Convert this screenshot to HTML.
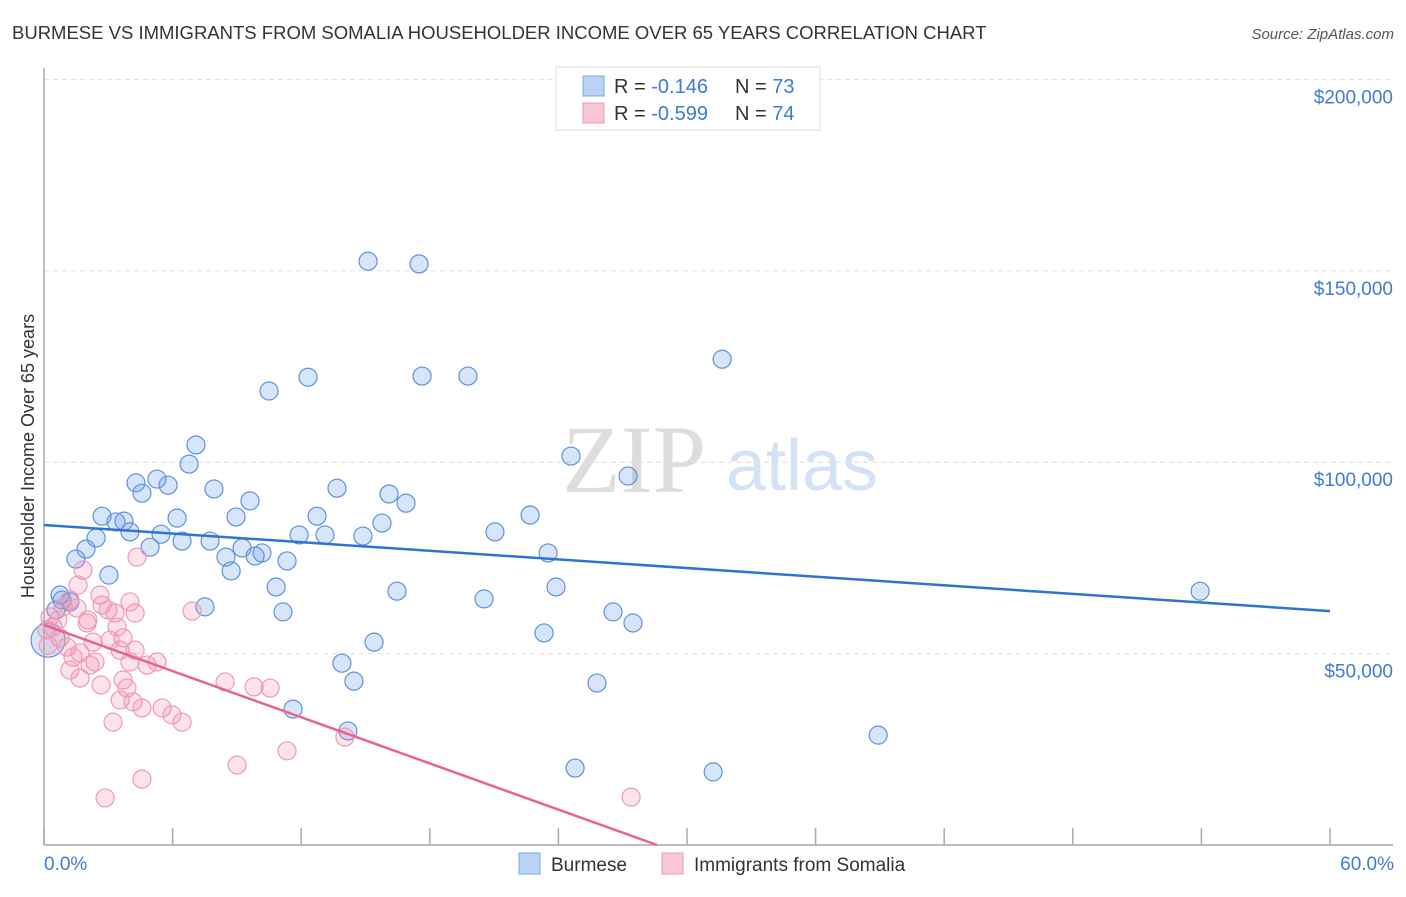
<!DOCTYPE html>
<html><head><meta charset="utf-8"><style>
body{margin:0;background:#fff;font-family:"Liberation Sans",sans-serif;}
svg text{font-family:"Liberation Sans",sans-serif;}
</style></head><body>
<svg id="chart" width="1406" height="892">
<text x="12" y="39" font-size="18.5" fill="#333">BURMESE VS IMMIGRANTS FROM SOMALIA HOUSEHOLDER INCOME OVER 65 YEARS CORRELATION CHART</text>
<text x="1394" y="39" font-size="15" fill="#555" font-style="italic" text-anchor="end">Source: ZipAtlas.com</text>
<text x="634" y="492" font-size="96" fill="#ddd" font-family="Liberation Serif" text-anchor="middle" style="font-family:'Liberation Serif',serif">ZIP</text>
<text x="802" y="490" font-size="72" fill="#d3e2f5" text-anchor="middle">atlas</text>
<g id="grid"></g><g id="axes"></g><g id="pts"></g><g id="trend"></g>
<text transform="translate(34,456) rotate(-90)" font-size="18" fill="#333" text-anchor="middle">Householder Income Over 65 years</text>
<text x="44" y="870" font-size="19" fill="#3d7bd4">0.0%</text>
<text x="1394" y="870" font-size="19" fill="#3d7bd4" text-anchor="end">60.0%</text>
<g>
<rect x="556" y="67" width="264" height="63" fill="#fff" stroke="#ddd"/>
<rect x="583" y="76" width="21" height="20" fill="#b9d3f5" stroke="#7aa7e6"/>
<rect x="583" y="103" width="21" height="20" fill="#f9c6d5" stroke="#ee9ab6"/>
<text x="614" y="93" font-size="20" fill="#333">R = <tspan fill="#3d7bd4"> -0.146</tspan><tspan x="735">N = </tspan><tspan fill="#3d7bd4">73</tspan></text>
<text x="614" y="120" font-size="20" fill="#333">R = <tspan fill="#3d7bd4">-0.599</tspan><tspan x="735">N = </tspan><tspan fill="#3d7bd4">74</tspan></text>
</g>
<g>
<rect x="519" y="853" width="21" height="21" fill="#b9d3f5" stroke="#7aa7e6"/>
<text x="551" y="871" font-size="19" fill="#333">Burmese</text>
<rect x="662" y="853" width="21" height="21" fill="#f9c6d5" stroke="#ee9ab6"/>
<text x="694" y="871" font-size="19" fill="#333">Immigrants from Somalia</text>
</g>
</svg>
<script>
const yTicks=[50000,100000,150000,200000];
const yTickLabels=["$50,000","$100,000","$150,000","$200,000"];
const xTicks=[0,6,12,18,24,30,36,42,48,54,60];
const blueX=[15.12,17.5,31.64,10.5,12.32,17.64,19.78,7.09,24.59,6.77,27.25,4.29,5.27,5.79,4.57,7.93,9.61,13.67,16.1,16.89,2.71,3.36,3.73,6.21,8.96,12.74,22.68,4.01,5.46,6.44,7.75,11.9,13.11,14.88,15.77,21.04,4.95,2.43,1.96,1.49,9.24,10.17,8.49,9.85,11.34,23.52,3.03,8.73,10.83,16.47,23.89,53.94,0.84,1.21,7.51,11.15,20.53,26.55,27.48,23.33,15.4,13.9,14.46,25.8,11.62,14.18,38.92,24.78,31.22,0.19,0.56,0.75];
const blueY=[152.5,151.8,126.9,118.6,122.2,122.5,122.5,104.5,101.6,99.5,96.4,94.6,95.6,94,91.9,93,89.9,93.2,91.7,89.3,85.9,84.4,84.6,85.4,85.7,85.9,86.2,81.8,81.2,79.4,79.4,81,81,80.7,84.1,81.8,77.8,80.2,77.3,74.7,77.6,76.3,75.2,75.5,74.2,76.3,70.5,71.6,67.4,66.3,67.4,66.3,64,63.5,62.2,60.9,64.3,60.9,58,55.4,53,47.5,42.8,42.3,35.5,29.8,28.7,20.1,19.1,53.5,61.4,65.3];
const pinkX=[4.34,1.82,1.59,2.61,2.71,4.01,4.25,2.99,3.31,2.05,1.54,2.01,3.41,2.29,3.08,3.69,4.25,3.55,4.01,4.81,5.27,2.38,2.15,1.21,1.68,2.66,3.69,3.87,3.55,4.15,4.57,5.51,5.97,6.44,3.22,8.45,6.91,9.01,4.57,2.85,0.42,0.28,0.75,1.07,1.68,1.35,0.89,1.21,9.8,10.55,11.34,14.04,27.39,0.14,0.65,0.19];
const pinkY=[75.2,71.8,67.9,65.3,62.7,63.5,60.6,61.4,60.6,58.8,61.9,58,56.9,53,53.5,54.1,50.9,50.9,47.8,47,47.8,47.8,47,45.7,43.6,41.8,43.1,41,37.9,37.4,35.8,35.8,34,32.1,32.1,42.6,61.1,20.9,17.2,12.3,56.9,59.6,54.1,51.7,50.2,49.1,62.2,64,41.3,41,24.6,28.2,12.5,56.2,58.8,52.2];
const blueTrend=[83.6,61.1];
const pinkTrend=[57.5,0,28.6];
const NS="http://www.w3.org/2000/svg";
const sx=v=>44+v/60*1286, sy=v=>845-v/50000*191.4;
function mk(t,a,p){const e=document.createElementNS(NS,t);for(const k in a)e.setAttribute(k,a[k]);document.getElementById(p).appendChild(e);return e;}
yTicks.forEach((t,i)=>{
 const l=mk('line',{x1:44,x2:1393,y1:sy(t),y2:sy(t),stroke:'#ddd','stroke-dasharray':'5,4'},'grid');
 
 
 const tx=mk('text',{x:1393,y:sy(t)+24,'font-size':19,fill:'#3d7bd4','text-anchor':'end'},'grid');
 tx.textContent=yTickLabels[i];
 
 
});
let ax=mk('line',{x1:44,x2:44,y1:68,y2:845,stroke:'#aaa','stroke-width':1.5},'axes');


ax=mk('line',{x1:44,x2:1393,y1:845,y2:845,stroke:'#aaa','stroke-width':1.5},'axes');


xTicks.forEach(t=>{const l=mk('line',{x1:sx(t),x2:sx(t),y1:828,y2:845,stroke:'#aaa','stroke-width':1.5},'axes');
 
 });
blueX.forEach((x,i)=>{const c=mk('circle',{cx:sx(x),cy:sy(blueY[i]*1000),r:i==69?17:9,fill:'rgba(110,160,235,0.28)',stroke:'#5d92dc','stroke-width':1.2},'pts');
 
 });
pinkX.forEach((x,i)=>{const c=mk('circle',{cx:sx(x),cy:sy(pinkY[i]*1000),r:9,fill:'rgba(245,140,175,0.25)',stroke:'#ee9ab6','stroke-width':1.2},'pts');
 
 });
let tl=mk('line',{x1:sx(0),y1:sy(blueTrend[0]*1000),x2:sx(60),y2:sy(blueTrend[1]*1000),stroke:'#2f74d0','stroke-width':2.5},'trend');


tl=mk('line',{x1:sx(0),y1:sy(pinkTrend[0]*1000),x2:sx(pinkTrend[2]),y2:sy(pinkTrend[1]),stroke:'#e8648f','stroke-width':2.5},'trend');


</script>
</body></html>
